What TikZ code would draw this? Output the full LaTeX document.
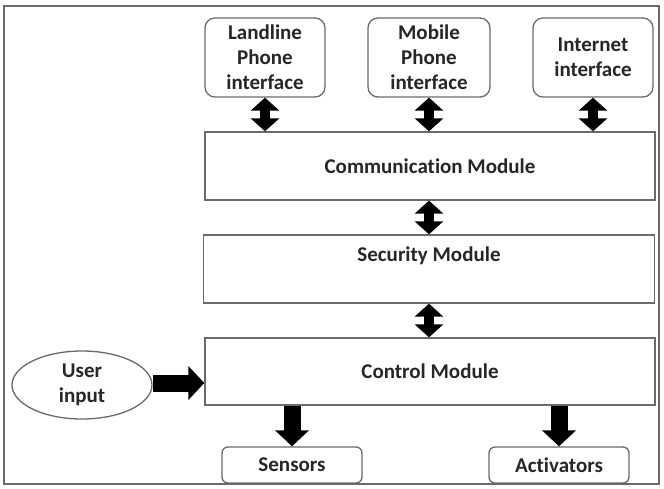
\documentclass[tikz,border=0pt]{standalone}
\usepackage{fontspec}
\setmainfont[Ligatures=CommonOff]{Carlito}
\usetikzlibrary{arrows.meta,shapes.geometric}
\definecolor{boxgray}{HTML}{6A6A6A}
\definecolor{txt}{HTML}{262626}
\begin{document}
\begin{tikzpicture}[x=1pt,y=-1pt,
  every node/.style={font=\bfseries\fontsize{21}{25}\selectfont, text=txt, align=center},
  ifbox/.style={draw=boxgray, line width=1.3pt, rounded corners=10pt, minimum width=120pt, minimum height=79pt, inner sep=0pt},
  modbox/.style={draw=boxgray, line width=1.3pt, minimum width=450pt, minimum height=68pt, inner sep=0pt},
  outbox/.style={draw=boxgray, line width=1.3pt, rounded corners=6pt, minimum width=140pt, minimum height=36pt, inner sep=0pt},
  dbl/.style={line width=10pt, {Triangle[length=13pt,width=28pt]}-{Triangle[length=13pt,width=28pt]}},
  sgl/.style={line width=17pt, -{Triangle[length=16pt,width=33pt]}}
]
\useasboundingbox (0,0) rectangle (664,488);
\draw[boxgray, line width=1.8pt] (4,6) rectangle (659,484);

\node[ifbox] (land) at (265,57.5) {Landline\\Phone\\interface};
\node[ifbox, minimum width=122pt] (mob) at (429,57.5) {Mobile\\Phone\\interface};
\node[ifbox] (inet) at (593,57.5) {Internet\\interface};

\node[modbox] (comm) at (430,166) {Communication Module};
\node[modbox, minimum width=451pt] (sec) at (429,269) {};
\node (seclbl) at (429,256) {Security Module};
\node[modbox, minimum height=67pt] (ctrl) at (430,371.5) {Control Module};

\node[draw=boxgray, line width=1.3pt, ellipse, minimum width=140pt, minimum height=68pt, inner sep=0pt] (user) at (82,385) {User\\input};

\node[outbox] (sens) at (292,465) {Sensors};
\node[outbox] (act) at (559,465) {Activators};

\draw[dbl] (land.south) -- (land.south |- comm.north);
\draw[dbl] (mob.south) -- (mob.south |- comm.north);
\draw[dbl] (inet.south) -- (inet.south |- comm.north);
\draw[dbl] (comm.south -| sec.north) -- (sec.north);
\draw[dbl] (sec.south) -- (sec.south |- ctrl.north);
\draw[sgl] (user.east |- 0,383) -- (ctrl.west |- 0,383);
\draw[sgl] (sens.north |- ctrl.south) -- (sens.north);
\draw[sgl] (act.north |- ctrl.south) -- (act.north);
\end{tikzpicture}
\end{document}
